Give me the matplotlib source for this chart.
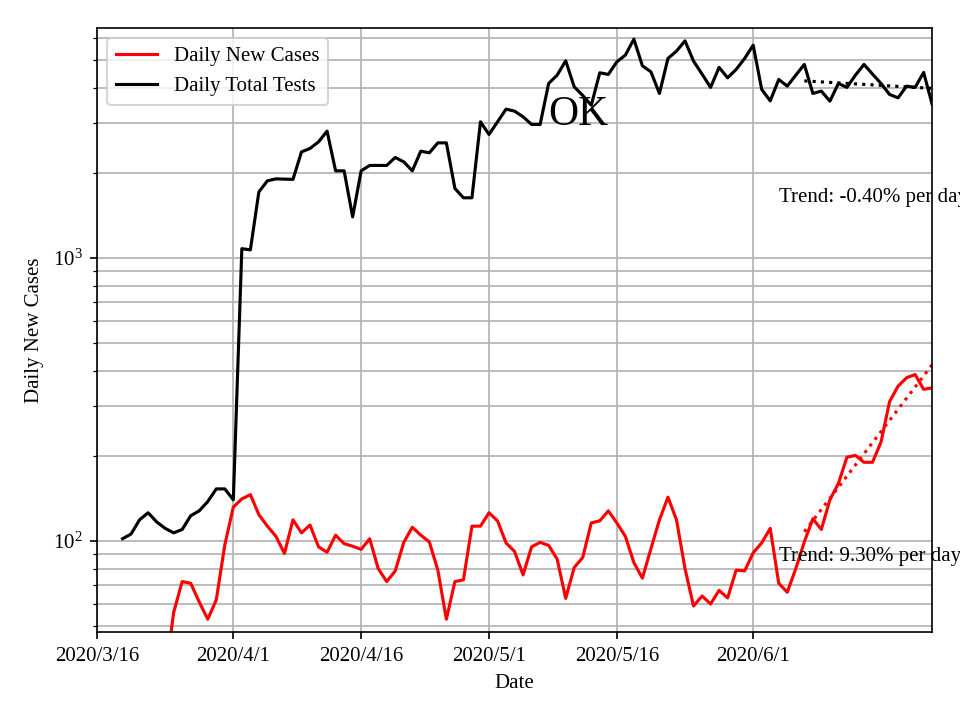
import datetime as dt
import matplotlib
matplotlib.use("Agg")
import matplotlib.pyplot as plt

plt.rcParams["font.family"] = ["Liberation Serif", "DejaVu Serif"]
plt.rcParams["mathtext.fontset"] = "stix"
plt.rcParams["font.size"] = 10

START = dt.date(2020, 3, 16)

# daily total tests, from 2020/3/19
tests_first_day = 3
tests = [102, 106, 119, 126, 117, 111, 107, 110, 123, 128, 138, 153, 153, 140,
         1080, 1070, 1715, 1876, 1906, 1902, 1898, 2374, 2441, 2576, 2811, 2035,
         2035, 1399, 2035, 2126, 2126, 2126, 2269, 2189, 2035, 2388, 2356, 2555,
         2555, 1763, 1634, 1634, 3031, 2736, 3031, 3362, 3307, 3158, 2968, 2968,
         4143, 4433, 4980, 4030, 3758, 3470, 4518, 4459, 4939, 5216, 5940, 4781,
         4554, 3819, 5078, 5389, 5859, 4968, 4470, 4011, 4720, 4337, 4643, 5078,
         5656, 3946, 3596, 4280, 4053, 4433, 4836, 3819, 3892, 3587, 4143, 4011,
         4433, 4836, 4470, 4143, 3788, 3685, 4053, 4011, 4531, 3493]

# daily new cases, from 2020/3/24
cases_first_day = 8
cases = [33, 56, 72, 71, 61, 53, 62, 97, 132, 141, 146, 124, 113, 104, 90.5,
         119, 107, 114, 95.5, 91.4, 105, 98, 96, 93.5, 102, 80, 72, 78.5, 99,
         112, 105, 99.4, 79, 53, 72, 73, 113, 113, 126, 118, 98.6, 92, 76, 95.5,
         99, 96.6, 86.4, 62.8, 80.7, 87.6, 116, 118, 128, 116, 104, 84, 74, 94,
         119, 143, 119, 80, 59, 64, 60, 67, 63, 79, 78.5, 91, 98.6, 111, 71, 66,
         80, 99.4, 120, 110, 140, 160, 198, 201, 190, 190, 224, 311, 353, 378,
         388, 344, 348]

# trend fits over the last 15 days
trend_days = [83, 98]
tests_trend = [4230, 3980]
cases_trend = [108, 420]
tests_trend_label = "Trend: -0.40% per day"
cases_trend_label = "Trend: 9.30% per day"

tick_days = [0, 16, 31, 46, 61, 77]


def day(n):
    return START + dt.timedelta(days=n)


tests_dates = [day(tests_first_day + i) for i in range(len(tests))]
cases_dates = [day(cases_first_day + i) for i in range(len(cases))]
trend_dates = [day(d) for d in trend_days]

fig, ax = plt.subplots(figsize=(6.4, 4.8), dpi=150)
fig.subplots_adjust(left=0.101, right=0.971, top=0.961, bottom=0.122)

ax.plot(cases_dates, cases, color="red", label="Daily New Cases")
ax.plot(tests_dates, tests, color="black", label="Daily Total Tests")
ax.plot(trend_dates, cases_trend, color="red", linestyle=":")
ax.plot(trend_dates, tests_trend, color="black", linestyle=":")

ax.set_yscale("log")
ax.set_ylim(47.7, 6500)
ax.set_xlim(day(0), day(98))

ticks = [day(d) for d in tick_days]
ax.set_xticks(ticks)
ax.set_xticklabels([f"{t.year}/{t.month}/{t.day}" for t in ticks])

ax.grid(True, which="both", color="#b0b0b0", linewidth=0.8)

ax.text(day(53), 2950, "OK", fontsize=20)
ax.text(day(80), 1580, tests_trend_label)
ax.text(day(80), 85, cases_trend_label)

ax.set_xlabel("Date")
ax.set_ylabel("Daily New Cases")
ax.legend(loc="upper left")

fig.savefig("out.png")
